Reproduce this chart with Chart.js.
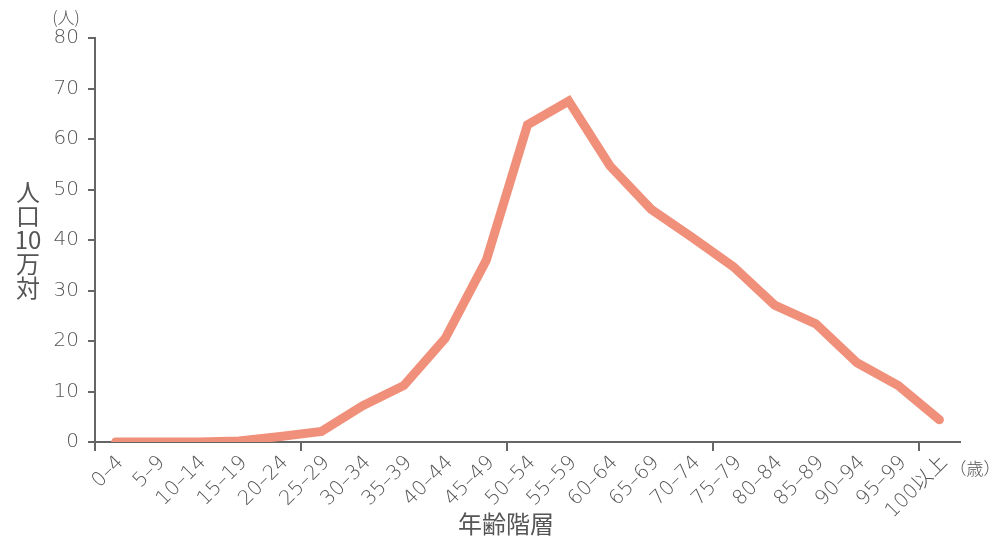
<!DOCTYPE html>
<html lang="ja">
<head>
<meta charset="utf-8">
<script src="https://cdn.jsdelivr.net/npm/chart.js@4"></script>
<style>
  html, body { margin: 0; padding: 0; background: #fff; }
  #wrap { width: 1000px; height: 548px; }
</style>
</head>
<body>
<div id="wrap"><canvas id="chart"></canvas></div>
<script>
// age groups and rate per 100,000 people
var ageGroups = ['0–4', '5–9', '10–14', '15–19', '20–24', '25–29', '30–34', '35–39', '40–44', '45–49',
  '50–54', '55–59', '60–64', '65–69', '70–74', '75–79', '80–84', '85–89', '90–94', '95–99', '100以上'];
var rates = [0, 0, 0, 0.2, 1.1, 2.1, 7.2, 11.2, 20.5, 36.0,
  62.8, 67.5, 54.7, 46.1, 40.5, 34.7, 27.1, 23.4, 15.7, 11.2, 4.4];
var yTicks = [0, 10, 20, 30, 40, 50, 60, 70, 80];

var gray = '#666666';
var textGray = '#555555';
var fontFamily = "'Noto Sans CJK JP', 'Noto Sans', sans-serif";
var numFamily = "'DejaVu Sans ExtraLight', 'DejaVu Sans', 'Noto Sans CJK JP', sans-serif";

// extra labels: units and axis titles
var labelsPlugin = {
  id: 'labels',
  afterDraw: function (chart) {
    var c = chart.ctx;
    c.save();
    c.fillStyle = textGray;
    c.textAlign = 'center';
    c.textBaseline = 'middle';
    c.font = '300 17px ' + fontFamily;
    c.fillText('(人)', 66, 18);
    c.fillText('（歳）', 975, 469);
    c.font = '400 24px ' + fontFamily;
    c.fillText('年齢階層', 506, 524);
    var ylab = ['人', '口', '10', '万', '対'];
    ylab.forEach(function (s, i) {
      c.fillText(s, 28, 192 + i * 24);
    });
    c.restore();
  }
};

var ctx = document.getElementById('chart').getContext('2d');
var chart = new Chart(ctx, {
  type: 'line',
  data: {
    labels: ageGroups,
    datasets: [{
      data: rates,
      borderColor: '#F0907A',
      borderWidth: 9,
      borderCapStyle: 'round',
      borderJoinStyle: 'miter',
      pointRadius: 0,
      tension: 0,
      clip: { left: 10, right: 10, top: 10, bottom: 0 }
    }]
  },
  options: {
    responsive: true,
    maintainAspectRatio: false,
    animation: false,
    events: [],
    layout: { padding: { top: 38, right: 40, left: 0, bottom: 0 } },
    plugins: {
      legend: { display: false },
      tooltip: { enabled: false }
    },
    scales: {
      x: {
        type: 'category',
        offset: true,
        grid: {
          offset: true,
          drawOnChartArea: false,
          drawTicks: true,
          tickLength: 9,
          lineWidth: 2,
          color: function (c) {
            return c.index % 5 === 0 ? gray : 'rgba(0,0,0,0)';
          }
        },
        border: { color: gray, width: 2 },
        ticks: {
          autoSkip: false,
          minRotation: 45,
          maxRotation: 45,
          padding: 0,
          labelOffset: 5,
          color: textGray,
          font: { family: numFamily, size: 20, weight: '200' }
        },
        afterFit: function (scale) {
          scale.height = 106;
          scale.paddingLeft = 0;
          scale.paddingRight = 0;
        }
      },
      y: {
        min: 0,
        max: 80,
        afterBuildTicks: function (scale) {
          scale.ticks = yTicks.map(function (v) { return { value: v }; });
        },
        grid: {
          drawOnChartArea: false,
          drawTicks: true,
          tickLength: 7,
          lineWidth: 2,
          color: gray
        },
        border: { color: gray, width: 2 },
        ticks: {
          padding: 9,
          color: textGray,
          font: { family: numFamily, size: 20, weight: '200' }
        },
        afterFit: function (scale) {
          scale.width = 95;
          scale.paddingTop = 0;
          scale.paddingBottom = 0;
        }
      }
    }
  },
  plugins: [labelsPlugin]
});
</script>
</body>
</html>
